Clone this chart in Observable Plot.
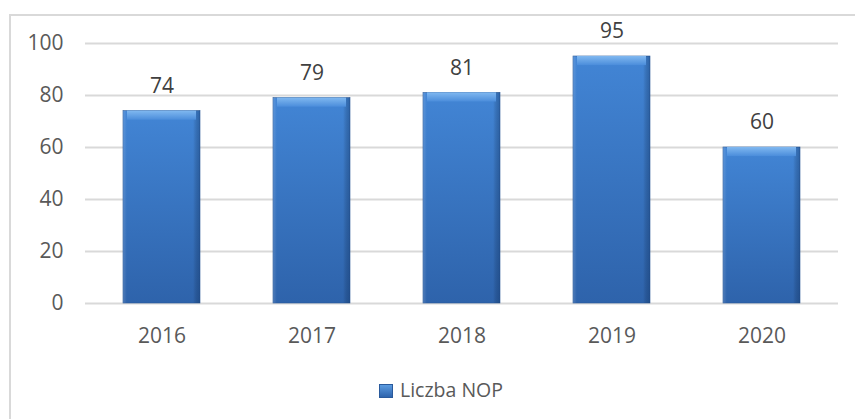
<!DOCTYPE html>
<html>
<head>
<meta charset="utf-8">
<script src="https://cdn.jsdelivr.net/npm/d3@7"></script>
<script src="https://cdn.jsdelivr.net/npm/@observablehq/plot@0.6"></script>
<style>
  html, body { margin: 0; padding: 0; background: #fff; overflow: hidden; }
  #wrap { position: relative; width: 855px; height: 419px; overflow: hidden; font-family: "Open Sans", sans-serif; }
  #frame { position: absolute; left: 9px; top: 14px; width: 900px; height: 460px; border: 2px solid #d9d9d9; box-sizing: border-box; }
  #chart { position: absolute; left: 0; top: 0; }
  #legend { position: absolute; left: 379px; top: 376px; white-space: nowrap; font-size: 19.5px; line-height: 28px; color: #595959; }
  #legend .sw { display: inline-block; width: 14px; height: 14px; margin-right: 7px; vertical-align: -1px; box-sizing: border-box;
    background: linear-gradient(#5b9be0, #2e64ad); border: 1px solid #2a5a9c; }
</style>
</head>
<body>
<div id="wrap">
  <div id="frame"></div>
  <div id="chart"></div>
  <div id="legend"><span class="sw"></span><span id="legendText"></span></div>
</div>
<script>
const years = ["2016", "2017", "2018", "2019", "2020"];
const counts = [74, 79, 81, 95, 60];
const yTicks = [0, 20, 40, 60, 80, 100];
const seriesName = "Liczba NOP";

const data = years.map((y, i) => ({year: y, value: counts[i]}));
document.getElementById("legendText").textContent = seriesName;

function defsMark() {
  const defs = d3.create("svg:defs");
  const v = defs.append("linearGradient").attr("id", "barV").attr("x1", 0).attr("y1", 0).attr("x2", 0).attr("y2", 1);
  v.append("stop").attr("offset", "0%").attr("stop-color", "#4285d5");
  v.append("stop").attr("offset", "100%").attr("stop-color", "#2e63ab");
  const h = defs.append("linearGradient").attr("id", "barH").attr("x1", 0).attr("y1", 0).attr("x2", 1).attr("y2", 0);
  h.append("stop").attr("offset", "0%").attr("stop-color", "#ffffff").attr("stop-opacity", 0.15);
  h.append("stop").attr("offset", "5%").attr("stop-color", "#ffffff").attr("stop-opacity", 0);
  h.append("stop").attr("offset", "91%").attr("stop-color", "#000000").attr("stop-opacity", 0);
  h.append("stop").attr("offset", "100%").attr("stop-color", "#0a2a5a").attr("stop-opacity", 0.35);
  const t = defs.append("linearGradient").attr("id", "barT").attr("x1", 0).attr("y1", 0).attr("x2", 0).attr("y2", 1);
  t.append("stop").attr("offset", "0%").attr("stop-color", "#80b8f0");
  t.append("stop").attr("offset", "100%").attr("stop-color", "#4b8ddb");
  return defs.node();
}

const plot = Plot.plot({
  width: 855,
  height: 360,
  marginLeft: 85,
  marginRight: 17,
  marginTop: 43,
  marginBottom: 57,
  style: {fontFamily: "Open Sans, sans-serif", fontSize: "21px", color: "#595959", background: "transparent"},
  x: {domain: years, paddingInner: 0.49, paddingOuter: 0.245, label: null, tickSize: 0, tickPadding: 25},
  y: {domain: [0, 100], ticks: yTicks, label: null, tickSize: 0, tickPadding: 22},
  marks: [
    defsMark,
    Plot.ruleY(yTicks, {stroke: "#d9d9d9", strokeWidth: 2}),
    Plot.barY(data, {x: "year", y: "value", fill: "url(#barV)", stroke: "#2a5896", strokeWidth: 0.6}),
    Plot.barY(data, {x: "year", y: "value", fill: "url(#barH)"}),
    Plot.barY(data, {x: "year", y1: d => d.value - 3.5, y2: "value", fill: "url(#barT)", insetLeft: 4, insetRight: 4}),
    Plot.text(data, {x: "year", y: "value", text: d => String(d.value), dy: -25, fill: "#404040", fontSize: 21})
  ]
});
document.getElementById("chart").appendChild(plot);
</script>
</body>
</html>
